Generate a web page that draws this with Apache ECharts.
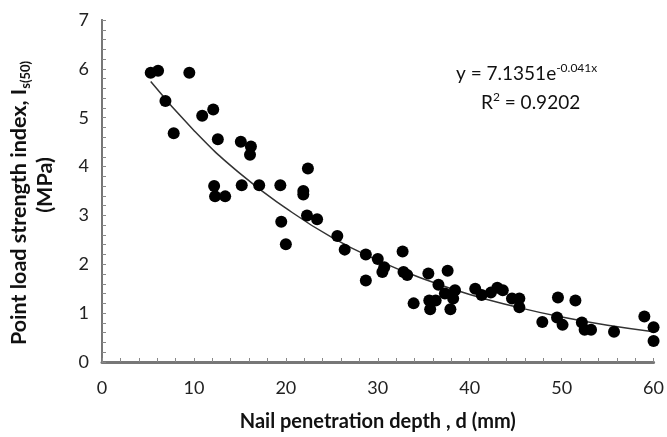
<!DOCTYPE html>
<html>
<head>
<meta charset="utf-8">
<script src="https://cdn.jsdelivr.net/npm/echarts@6/dist/echarts.min.js"></script>
<style>html,body{margin:0;padding:0;background:#fff}#c{width:667px;height:437px}</style>
</head>
<body>
<div id="c"></div>
<script>
var depth = [5.3,6.1,9.5,6.9,7.8,10.9,12.1,12.6,15.1,16.2,16.1,12.2,15.2,17.1,19.4,12.3,13.4,19.5,20.0,22.4,21.9,21.9,22.3,23.4,25.6,26.4,28.7,28.7,30.0,30.7,30.5,32.7,32.8,33.2,33.9,35.5,37.6,36.6,35.6,36.3,35.7,37.3,38.4,38.2,37.9,40.6,41.3,42.3,43.0,43.6,44.6,45.4,45.4,47.9,49.6,51.5,49.5,50.1,52.2,52.5,53.2,55.7,59.0,60.0,60.0];
var strength = [5.92,5.96,5.92,5.34,4.68,5.04,5.17,4.56,4.51,4.41,4.24,3.60,3.62,3.62,3.62,3.39,3.39,2.87,2.41,3.96,3.50,3.43,3.00,2.92,2.58,2.30,2.20,1.67,2.11,1.94,1.84,2.26,1.84,1.78,1.20,1.81,1.87,1.58,1.26,1.26,1.08,1.40,1.47,1.30,1.08,1.50,1.37,1.42,1.52,1.47,1.30,1.30,1.12,0.82,1.32,1.26,0.91,0.76,0.81,0.66,0.66,0.62,0.93,0.71,0.43];
var trendX = [5.3,10,15,20,25,30,35,40,45,50,55,60];
var trendY = [5.74,4.74,3.86,3.15,2.55,2.08,1.70,1.38,1.13,0.92,0.75,0.62];
var xTicks = [0,10,20,30,40,50,60];
var yTicks = [0,1,2,3,4,5,6,7];

var chart = echarts.init(document.getElementById('c'));
var font = 'Lato, "Open Sans", sans-serif';
var pts = depth.map(function(d,i){return [d, strength[i]];});
var tr = trendX.map(function(d,i){return [d, trendY[i]];});
chart.setOption({
  animation:false,
  grid:{left:102,right:12,top:20,bottom:72},
  xAxis:[{
    type:'value',min:xTicks[0],max:xTicks[xTicks.length-1],interval:10,
    axisLine:{lineStyle:{color:'#888',width:2}},
    axisTick:{inside:true,length:4,lineStyle:{color:'#888'}},
    minorTick:{show:true,splitNumber:5,length:4,lineStyle:{color:'#888'}},
    splitLine:{show:false},
    axisLabel:{color:'#222',fontSize:18,fontFamily:font,margin:17},
    name:'Nail penetration depth , d (mm)',nameLocation:'middle',nameGap:50,
    nameTextStyle:{color:'#111',fontSize:20,fontWeight:'bold',fontFamily:font}
  },{
    type:'value',position:'top',min:0,max:60,
    axisLine:{show:true,lineStyle:{color:'#777',width:3}},
    axisTick:{show:false},axisLabel:{show:false},splitLine:{show:false}
  }],
  yAxis:[{
    type:'value',min:yTicks[0],max:yTicks[yTicks.length-1],interval:1,
    axisLine:{show:true,lineStyle:{color:'#888',width:2}},
    axisTick:{show:true,inside:true,length:4,lineStyle:{color:'#888'}},
    minorTick:{show:true,splitNumber:5,length:4,lineStyle:{color:'#888'}},
    splitLine:{show:false},
    axisLabel:{color:'#222',fontSize:18,fontFamily:font,margin:13},
    name:'{t|Point load strength index, I}{s|s(50)}',
    nameLocation:'middle',nameGap:70,nameRotate:90,
    nameTextStyle:{color:'#111',fontFamily:font,padding:[0,24,0,0],
      rich:{t:{fontSize:21.5,fontWeight:'bold',fontFamily:font,color:'#111',lineHeight:25},
            s:{fontSize:13,fontWeight:'bold',fontFamily:font,color:'#111',verticalAlign:'bottom',padding:[9,0,0,0]}}}
  },{
    type:'value',position:'right',min:0,max:7,
    axisLine:{show:true,lineStyle:{color:'#777',width:2}},
    axisTick:{show:false},axisLabel:{show:false},splitLine:{show:false}
  }],
  series:[{
    type:'line',data:tr,smooth:true,symbol:'none',
    lineStyle:{color:'#333',width:1.5},z:1
  },{
    type:'scatter',data:pts,symbol:'circle',symbolSize:12,
    itemStyle:{color:'#000',opacity:1},z:2
  }],
  graphic:[{
    type:'text',x:45,y:185,rotation:Math.PI/2,
    style:{text:'(MPa)',align:'center',verticalAlign:'middle',fontSize:21.5,fontWeight:'bold',fontFamily:font,fill:'#111'}
  },{
    type:'text',left:456,top:62,
    style:{text:'{a|y = 7.1351e}{b|-0.041x}',
      rich:{a:{fontSize:19,fontFamily:font,fill:'#111'},b:{fontSize:12,fontFamily:font,fill:'#111',padding:[0,0,11,0]}}}
  },{
    type:'text',left:481,top:91,
    style:{text:'{a|R}{b|2}{a| = 0.9202}',
      rich:{a:{fontSize:19,fontFamily:font,fill:'#111'},b:{fontSize:12,fontFamily:font,fill:'#111',padding:[0,0,11,0]}}}
  }]
});
</script>
</body>
</html>
